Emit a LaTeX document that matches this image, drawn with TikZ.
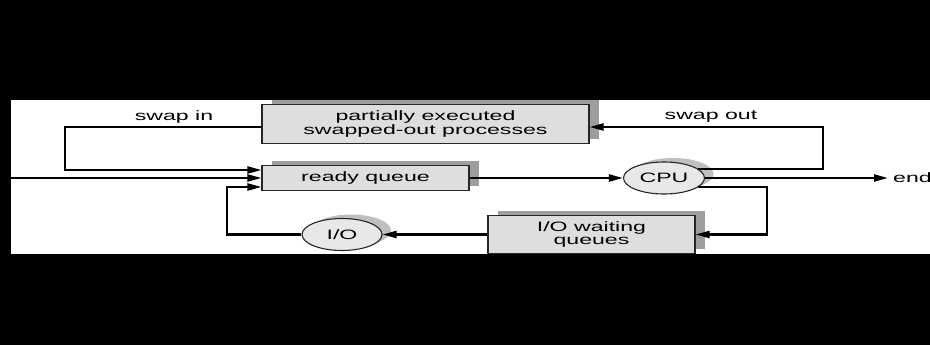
\documentclass[tikz,border=0pt]{standalone}
\usepackage{fontspec}
\setmainfont[FakeStretch=1.7]{Liberation Sans}
\usetikzlibrary{shadows,arrows.meta,calc,shapes.geometric}
\begin{document}
\begin{tikzpicture}[x=1pt,y=-1pt,
  txt/.style={font=\fontsize{13.6}{13.8}\selectfont},
  boxnode/.style={txt, rectangle, draw=black!85, line width=1.1pt, fill=black!13,
    inner sep=0pt, align=center,
    general shadow={shadow xshift=9.5pt, shadow yshift=4.5pt, fill=black!38, draw=none}},
  ellnode/.style={txt, ellipse, draw=black!85, line width=1.1pt, fill=black!9,
    inner sep=0pt, minimum width=81pt, minimum height=32pt,
    general shadow={shadow xshift=9pt, shadow yshift=4pt, fill=black!25, draw=none}},
  conn/.style={line width=2.2pt, -{Triangle[length=14pt,width=7pt]}},
  lbl/.style={txt, inner sep=0pt}]
\clip (0,0) rectangle (930,345);
\fill[black] (0,0) rectangle (930,345);
\fill[white] (11,100) rectangle (930,254);

\node[boxnode, minimum width=327pt, minimum height=39pt] (part) at (425.5,124)
  {partially executed\\swapped-out processes};
\node[boxnode, minimum width=207pt, minimum height=25pt] (ready) at (365.5,178)
  {ready queue};
\node[boxnode, minimum width=207pt, minimum height=38pt] (wait) at (591.5,234.5)
  {I/O waiting\\queues};
\node[ellnode] (cpu) at (664,178) {CPU};
\node[ellnode, minimum width=80pt] (io) at (342,234.5) {I/O};

\node[lbl] (swin) at (174,117) {swap in};
\node[lbl] (swout) at (711,117) {swap out};
\node[lbl, anchor=west, inner xsep=5pt] (endn) at (888,178) {end};

\coordinate (start) at (11,178);
\coordinate (sic) at (65,127);
\coordinate (soc) at (823,127);
\coordinate (iol) at (227,187);
\coordinate (wr) at (767,234.5);

\draw[conn] (start) -- (ready.west);
\draw[conn] (sic -| part.west) -- (sic) |- ([yshift=8pt]ready.west);
\draw[conn] (io.west) -| (iol) -- (iol -| ready.west);
\draw[conn] (ready.east) -- (cpu.west);
\draw[conn] (cpu.east) -- (endn.west);
\draw[conn] (cpu.15) -| (soc) -- (soc -| part.east);
\draw[conn] (cpu.-15) -| (wr) -- (wait.east);
\draw[conn] (wait.west) -- (io.east);
\end{tikzpicture}
\end{document}
